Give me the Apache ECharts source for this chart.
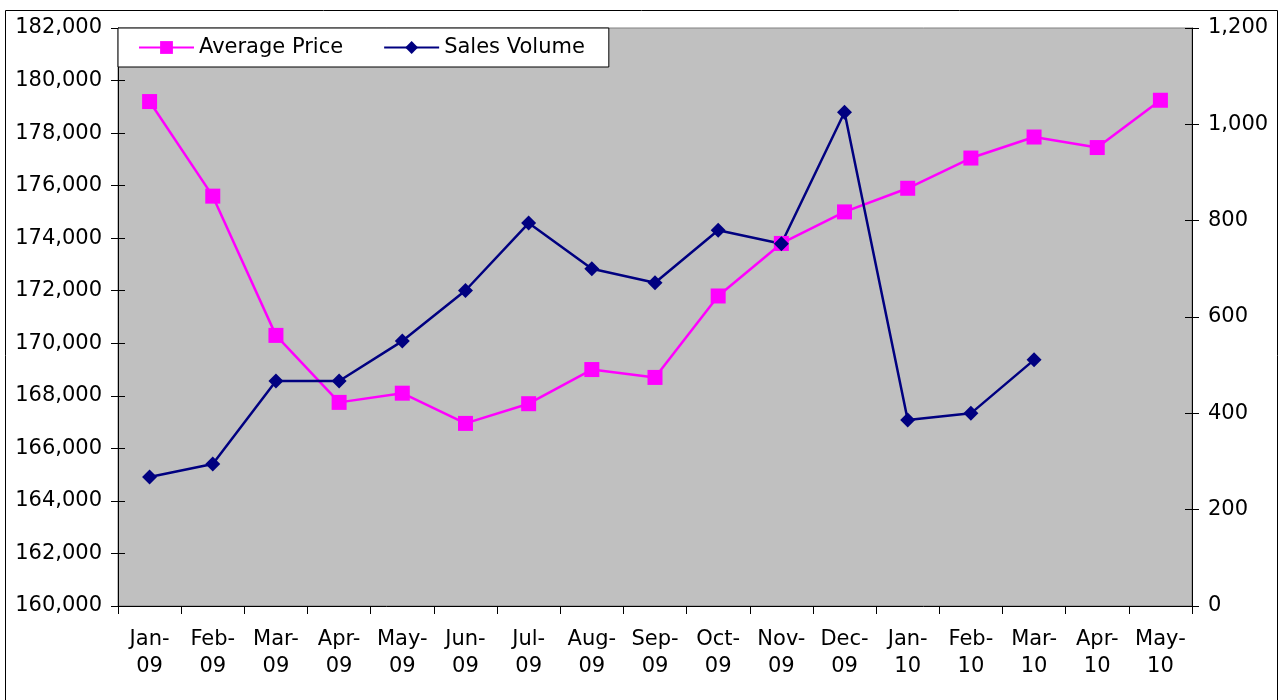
<!DOCTYPE html>
<html>
<head>
<meta charset="utf-8">
<script src="https://cdn.jsdelivr.net/npm/echarts@6/dist/echarts.min.js"></script>
<style>
  html, body { margin: 0; padding: 0; background: #fff; }
  #chart { width: 1282px; height: 700px; }
</style>
</head>
<body>
<div id="chart"></div>
<script>
// months on the x axis
var months = ['Jan-\n09', 'Feb-\n09', 'Mar-\n09', 'Apr-\n09', 'May-\n09', 'Jun-\n09', 'Jul-\n09', 'Aug-\n09',
  'Sep-\n09', 'Oct-\n09', 'Nov-\n09', 'Dec-\n09', 'Jan-\n10', 'Feb-\n10', 'Mar-\n10', 'Apr-\n10', 'May-\n10'];
var avgPrice = [179200, 175600, 170300, 167750, 168100, 166950, 167700, 169000,
  168700, 171800, 173800, 175000, 175900, 177050, 177850, 177450, 179250];
var salesVolume = [268, 295, 467, 467, 550, 655, 795, 700,
  671, 780, 752, 1025, 386, 400, 511, null, null];

var fontFam = 'DejaVu Sans';
var fontSz = 21;

function thousands(v) { return v.toLocaleString('en-US'); }

// ticks in Excel cross the axis line, so each value axis gets a twin with inside ticks
function valueAxis(pos, min, max, step, twin) {
  return {
    type: 'value',
    position: pos,
    min: min, max: max, interval: step,
    axisLine: { show: !twin, lineStyle: { color: '#000' } },
    axisTick: { show: true, inside: twin, length: 7, lineStyle: { color: '#000' } },
    axisLabel: {
      show: !twin,
      color: '#000', fontFamily: fontFam, fontSize: fontSz, margin: 16,
      formatter: thousands
    },
    splitLine: { show: false }
  };
}

var myChart = echarts.init(document.getElementById('chart'));
var option = {
  animation: false,
  textStyle: { fontFamily: fontFam },
  graphic: [{
    type: 'rect',
    shape: { x: 5.5, y: 10.5, width: 1272, height: 700 },
    style: { fill: 'none', stroke: '#000', lineWidth: 1 },
    z: -1
  }],
  grid: {
    left: 118, right: 90, top: 28, bottom: 94,
    show: true,
    backgroundColor: '#C0C0C0',
    borderColor: '#808080',
    borderWidth: 1,
    outerBoundsMode: 'none'
  },
  legend: {
    left: 118, top: 28,
    backgroundColor: '#fff',
    borderColor: '#000',
    borderWidth: 1,
    padding: [9, 24, 9, 20],
    itemGap: 40,
    itemWidth: 55,
    itemHeight: 16,
    textStyle: { fontFamily: fontFam, fontSize: fontSz, color: '#000' },
    data: ['Average Price', 'Sales Volume']
  },
  xAxis: {
    type: 'category',
    data: months,
    boundaryGap: true,
    axisLine: { lineStyle: { color: '#000', width: 1 } },
    axisTick: { show: true, length: 8, lineStyle: { color: '#000' } },
    axisLabel: {
      color: '#000', fontFamily: fontFam, fontSize: fontSz,
      lineHeight: 27, margin: 20, interval: 0
    },
    splitLine: { show: false }
  },
  yAxis: [
    valueAxis('left', 160000, 182000, 2000, false),
    valueAxis('right', 0, 1200, 200, false),
    valueAxis('left', 160000, 182000, 2000, true),
    valueAxis('right', 0, 1200, 200, true)
  ],
  series: [{
    name: 'Average Price',
    type: 'line',
    yAxisIndex: 0,
    data: avgPrice,
    symbol: 'rect',
    symbolSize: 15,
    color: '#FF00FF',
    lineStyle: { color: '#FF00FF', width: 2.5 },
    itemStyle: { color: '#FF00FF' }
  }, {
    name: 'Sales Volume',
    type: 'line',
    yAxisIndex: 1,
    data: salesVolume,
    symbol: 'diamond',
    symbolSize: 15,
    color: '#000080',
    lineStyle: { color: '#000080', width: 2.5 },
    itemStyle: { color: '#000080' }
  }]
};
myChart.setOption(option);
</script>
</body>
</html>
